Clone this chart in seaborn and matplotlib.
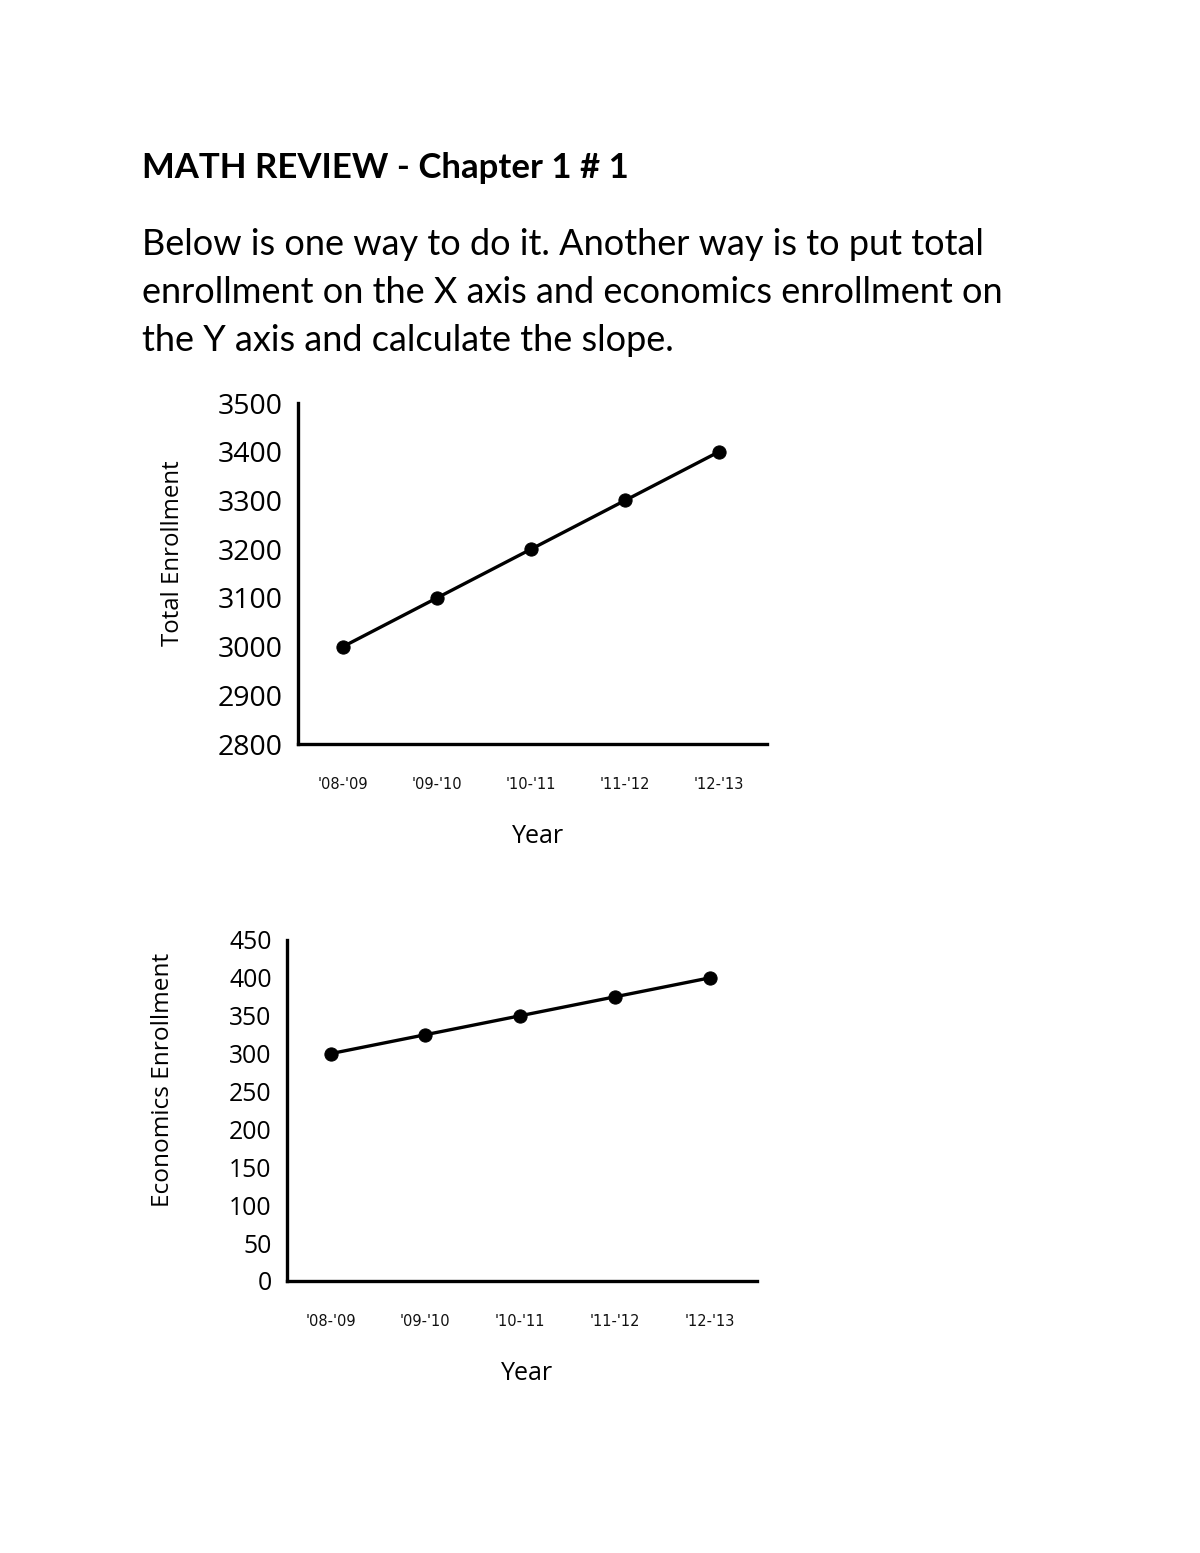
import matplotlib
matplotlib.use("Agg")
import matplotlib.pyplot as plt
import seaborn as sns
import pandas as pd

years = ["'08-'09", "'09-'10", "'10-'11", "'11-'12", "'12-'13"]
total_enrollment = [3000, 3100, 3200, 3300, 3400]
econ_enrollment = [300, 325, 350, 375, 400]
total_ticks = [2800, 2900, 3000, 3100, 3200, 3300, 3400, 3500]
econ_ticks = [0, 50, 100, 150, 200, 250, 300, 350, 400, 450]

title = "MATH REVIEW - Chapter 1 # 1"
para = ["Below is one way to do it. Another way is to put total",
        "enrollment on the X axis and economics enrollment on",
        "the Y axis and calculate the slope."]

sns.set_style("white")
plt.rcParams['font.family'] = ['Open Sans', 'DejaVu Sans']
plt.rcParams['text.color'] = 'black'

W, H = 1200, 1553
fig = plt.figure(figsize=(W / 100, H / 100), dpi=100)
fig.patch.set_facecolor("white")


def px_axes(left, top, right, bottom):
    return fig.add_axes([left / W, 1 - bottom / H, (right - left) / W, (bottom - top) / H])


def draw(ax, values, ticks, ylabel, xlim, ylim, tick_fs, ylab_fs, ylab_xy, xlab_xy):
    df = pd.DataFrame({"x": range(len(years)), "y": values})
    sns.lineplot(data=df, x="x", y="y", ax=ax, color="black", linewidth=2.4,
                 marker="o", markersize=9.5, markeredgecolor="black")
    ax.set_xlim(*xlim)
    ax.set_ylim(*ylim)
    ax.set_yticks(ticks)
    ax.set_yticklabels([str(t) for t in ticks], fontsize=tick_fs, color="black")
    ax.set_xticks(range(len(years)))
    ax.set_xticklabels(years, fontsize=10.5, family=['DejaVu Sans'], color="#111111")
    ax.tick_params(axis="both", length=0)
    ax.tick_params(axis="x", pad=24)
    ax.tick_params(axis="y", pad=11)
    for s in ["top", "right"]:
        ax.spines[s].set_visible(False)
    for s in ["left", "bottom"]:
        ax.spines[s].set_color("black")
        ax.spines[s].set_linewidth(2.4)
    ax.set_xlabel("Year", fontsize=18, color="black")
    ax.set_ylabel(ylabel, fontsize=ylab_fs, color="black")
    ax.yaxis.set_label_coords(*ylab_xy)
    ax.xaxis.set_label_coords(*xlab_xy)
    ax.xaxis.label.set_va("center")
    ax.yaxis.label.set_va("center")
    ax.grid(False)


ax1 = px_axes(298, 403, 767, 744)
draw(ax1, total_enrollment, total_ticks, "Total Enrollment", (-0.48, 4.51), (2800, 3500),
     20.5, 17.3, (-0.267, 0.56), (0.512, -0.27))

ax2 = px_axes(287, 940, 757, 1281)
draw(ax2, econ_enrollment, econ_ticks, "Economics Enrollment", (-0.46, 4.5), (0, 450),
     17.8, 17.6, (-0.264, 0.59), (0.51, -0.27))

fig.text(142 / W, 1 - 178 / H, title, fontsize=25, fontweight="bold",
         family=['Lato', 'DejaVu Sans'], va="baseline", ha="left", color="black")
for i, line in enumerate(para):
    fig.text(142 / W, 1 - (255 + 48 * i) / H, line, fontsize=26,
             family=['Lato', 'DejaVu Sans'], va="baseline", ha="left", color="black")

fig.savefig("out.png", dpi=100, facecolor="white")
